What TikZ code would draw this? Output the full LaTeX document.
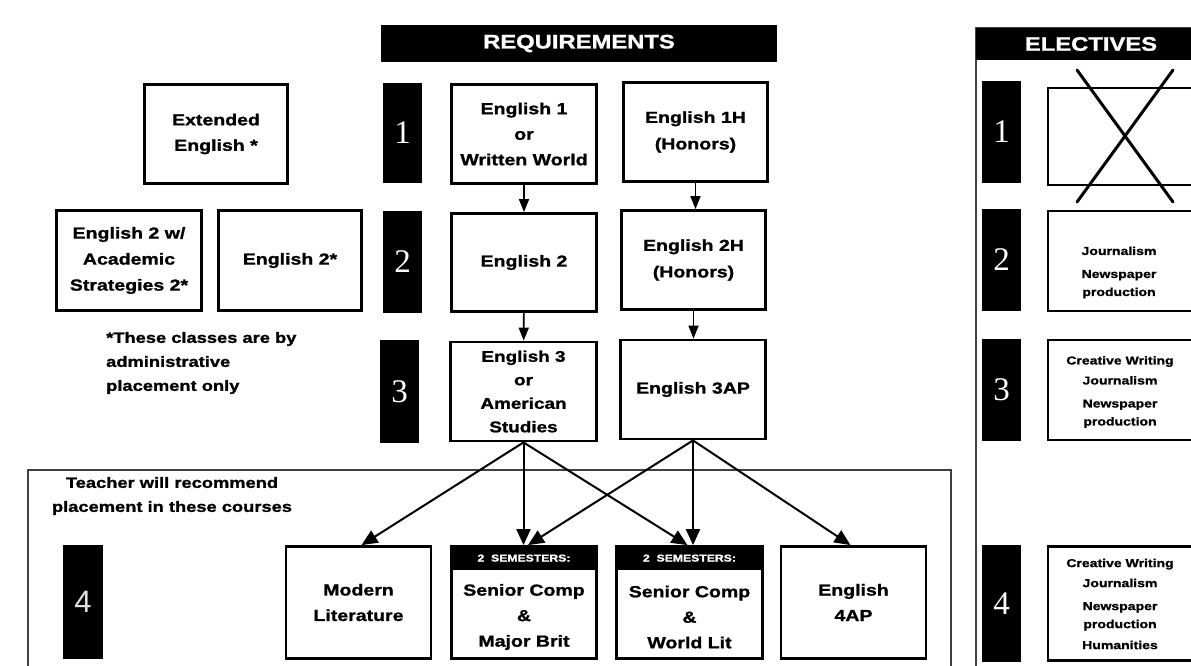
\documentclass[tikz,border=0pt]{standalone}
\usepackage{fontspec}
\setmainfont{Liberation Sans}
\newfontfamily\bsf{Liberation Sans}[FakeStretch=1.22, FakeBold=1.2]
\newfontfamily\numf{Liberation Serif}
\usetikzlibrary{arrows.meta}
\begin{document}
\begin{tikzpicture}[x=1pt,y=-1pt,
  cbox/.style={draw, line width=2.8pt, align=center, inner sep=0pt,
    font=\bsf\bfseries\fontsize{16}{25.5}\selectfont},
  ebox/.style={draw, line width=2.8pt, inner sep=0pt, minimum width=146, minimum height=100},
  etext/.style={align=center, inner sep=0pt, font=\bsf\bfseries\fontsize{11.5}{18}\selectfont},
  btext/.style={align=center, inner sep=0pt, font=\bsf\bfseries\fontsize{16}{25.5}\selectfont},
  note/.style={inner sep=0pt, font=\bsf\bfseries\fontsize{15}{24}\selectfont},
  numbox/.style={fill=black, text=white, inner sep=0pt, minimum width=39, font=\numf\fontsize{33}{33}\selectfont},
  hdr/.style={fill=black, text=white, inner sep=0pt, font=\bsf\bfseries\fontsize{19.5}{20}\selectfont},
  semhdr/.style={fill=black, text=white, inner sep=0pt, minimum width=148, minimum height=23,
    font=\bsf\bfseries\fontsize{10}{10}\selectfont},
  frame/.style={draw=black!75, line width=1.8pt},
  arr/.style={line width=2pt, -{Triangle[length=16pt,width=14pt]}},
  sarr/.style={line width=1.6pt, -{Triangle[length=13pt,width=10pt]}},
  cross/.style={line width=3pt, line cap=round}
]
\useasboundingbox (0,0) rectangle (1191,666);
\clip (0,0) rectangle (1191,666);
\fill[white] (0,0) rectangle (1191,666);

% frames
\draw[frame] (28,470) rectangle (951,720);
\draw[frame] (976,28) rectangle (1240,720);

% headers
\node[hdr, minimum width=396, minimum height=37] (req) at (579,43.5) {REQUIREMENTS};
\node[hdr, minimum width=230, minimum height=32] (elh) at (1091,44) {ELECTIVES};

% level numbers (requirements)
\node[numbox, minimum height=100] (n1) at (402.5,133) {1};
\node[numbox, minimum height=102] (n2) at (402.5,262) {2};
\node[numbox, minimum height=103] (n3) at (399.5,391.5) {3};
\node[numbox, minimum width=40, minimum height=114, text=black!12,
  font=\fontsize{31}{31}\selectfont] (n4) at (83,602) {4};

% left placement boxes
\node[cbox, minimum width=143, minimum height=99] (ext) at (216,134) {Extended\\English *};
\node[cbox, minimum width=145, minimum height=100, font=\bsf\bfseries\fontsize{16}{26}\selectfont]
  (e2w) at (129,260.5) {English 2 w/\\Academic\\Strategies 2*};
\node[cbox, minimum width=143, minimum height=100] (e2s) at (290,260.5) {English 2*};
\node[note, anchor=west, align=left] (fn) at (106,363) {*These classes are by\\administrative\\placement only};

% requirement boxes
\node[cbox, minimum width=145, minimum height=99] (e1) at (524,134) {English 1\\or\\Written World};
\node[cbox, minimum width=144, minimum height=99, font=\bsf\bfseries\fontsize{16}{26.5}\selectfont]
  (e1h) at (695.5,132) {English 1H\\(Honors)};
\node[cbox, minimum width=145, minimum height=98] (e2) at (524,262.5) {English 2};
\node[cbox, minimum width=144, minimum height=99, font=\bsf\bfseries\fontsize{16}{26.5}\selectfont]
  (e2h) at (693.5,260) {English 2H\\(Honors)};
\node[cbox, minimum width=146, minimum height=99, font=\bsf\bfseries\fontsize{15.5}{23.5}\selectfont]
  (e3) at (523.5,391.5) {English 3\\or\\American\\Studies};
\node[cbox, minimum width=145, minimum height=99] (e3ap) at (693,389.5) {English 3AP};

% level 4 courses
\node[note, align=center] (tch) at (172,496) {Teacher will recommend\\placement in these courses};
\node[cbox, minimum width=145, minimum height=112] (ml) at (358.5,602.5) {Modern\\Literature};
\node[cbox, minimum width=145, minimum height=112] (mb) at (524,602.5) {};
\node[semhdr, anchor=north] (mbh) at ([yshift=-1.3]mb.north) {2\ \ SEMESTERS:};
\node[btext] (mbt) at (524,617) {Senior Comp\\\&\\Major Brit};
\node[cbox, minimum width=146, minimum height=112] (wl) at (689.5,602.5) {};
\node[semhdr, anchor=north] (wlh) at ([yshift=-1.3]wl.north) {2\ \ SEMESTERS:};
\node[btext] (wlt) at (689.5,617) {Senior Comp\\\&\\World Lit};
\node[cbox, minimum width=145, minimum height=112] (ap) at (853.5,602.5) {English\\4AP};

% arrows
\draw[sarr] (e1) -- (e2);
\draw[sarr] (e1h.south) -- (e1h.south |- e2h.north);
\draw[sarr] (e2) -- (e3);
\draw[sarr] (e2h.south) -- (e2h.south |- e3ap.north);
\draw[arr] (e3.south) -- ([xshift=3]ml.north);
\draw[arr] (e3.south) -- (e3.south |- mb.north);
\draw[arr] (e3.south) -- ([xshift=-2]wl.north);
\draw[arr] (e3ap.south) -- ([xshift=4]mb.north);
\draw[arr] (e3ap.south) -- (e3ap.south |- wl.north);
\draw[arr] (e3ap.south) -- ([xshift=-3]ap.north);

% electives
\node[numbox, minimum height=102] (en1) at (1001.5,132) {1};
\node[numbox, minimum height=102] (en2) at (1001.5,260) {2};
\node[numbox, minimum height=102] (en3) at (1001.5,390) {3};
\node[numbox, minimum height=117] (en4) at (1001.5,603.5) {4};

\node[ebox, minimum height=97] (ec1) at (1121,136.5) {};
\draw[cross] (1077,70) -- (1173,202);
\draw[cross] (1173,70) -- (1077,202);
\node[ebox] (ec2) at (1121,261) {};
\node[etext] (et2) at (1119,272.5) {Journalism\\[5pt]Newspaper\\production};
\node[ebox] (ec3) at (1121,390) {};
\node[etext] (et3) at (1120,392) {Creative Writing\\[2pt]Journalism\\[5pt]Newspaper\\production};
\node[ebox, minimum height=114] (ec4) at (1121,603.5) {};
\node[etext] (et4) at (1120,604) {Creative Writing\\[2pt]Journalism\\[5pt]Newspaper\\production\\[3pt]Humanities};
\end{tikzpicture}
\end{document}
